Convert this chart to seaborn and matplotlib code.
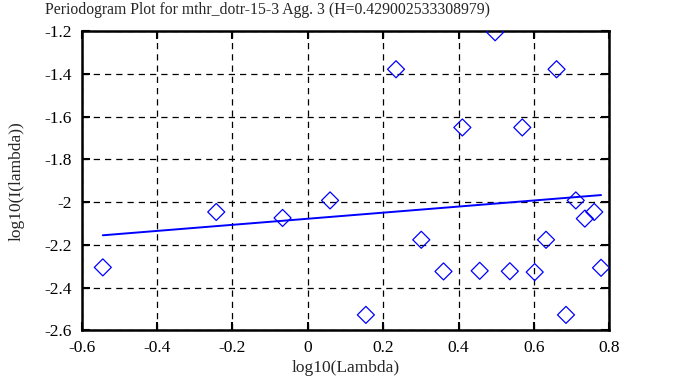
import matplotlib
matplotlib.use("Agg")
import matplotlib.pyplot as plt
import seaborn as sns
import pandas as pd

# Data
log_lambda = [-0.544, -0.243, -0.067, 0.059, 0.154, 0.234, 0.301, 0.360, 0.410,
              0.456, 0.497, 0.536, 0.569, 0.602, 0.632, 0.660, 0.685, 0.711,
              0.735, 0.760, 0.778]
log_I = [-2.305, -2.046, -2.074, -1.992, -2.527, -1.379, -2.176, -2.324, -1.651,
         -2.321, -1.206, -2.323, -1.651, -2.327, -2.176, -1.379, -2.527, -1.992,
         -2.077, -2.046, -2.307]
fit_x = [-0.544, 0.778]
fit_y = [-2.155, -1.967]
x_ticks = [-0.6, -0.4, -0.2, 0, 0.2, 0.4, 0.6, 0.8]
y_ticks = [-2.6, -2.4, -2.2, -2, -1.8, -1.6, -1.4, -1.2]
title = "Periodogram Plot for mthr_dotr-15-3 Agg. 3 (H=0.429002533308979)"

sns.set_style("ticks")
plt.rcParams['font.family'] = ['Liberation Serif', 'DejaVu Serif']
plt.rcParams['font.size'] = 12

df = pd.DataFrame({"x": log_lambda, "y": log_I})
fit = pd.DataFrame({"x": fit_x, "y": fit_y})

fig = plt.figure(figsize=(6.73, 3.87), dpi=100)
ax = fig.add_axes([0.1214, 0.146, 0.9054 - 0.1214, 0.920 - 0.146])

sns.scatterplot(data=df, x="x", y="y", ax=ax, marker="D", s=75,
                facecolors="none", edgecolor="#0000ff", linewidth=0.9, zorder=3)
sns.lineplot(data=fit, x="x", y="y", ax=ax, color="#0000ff", linewidth=1.4, zorder=3)

ax.set_xlim(-0.6, 0.8)
ax.set_ylim(-2.6, -1.2)
ax.set_xticks(x_ticks)
ax.set_yticks(y_ticks)
ax.set_xticklabels([f"{t:g}" for t in x_ticks])
ax.set_yticklabels([f"{t:g}" for t in y_ticks])
ax.grid(True, color="black", linestyle=(0, (5, 4)), linewidth=0.9)
ax.tick_params(direction="in", length=6, width=1.5, top=True, right=True,
               labelsize=12.5, pad=7, colors="black")
for sp in ax.spines.values():
    sp.set_linewidth(1.8)
    sp.set_color("black")
    sp.set_visible(True)
ax.set_xlabel("log10(Lambda)", fontsize=12.5, labelpad=3)
ax.set_ylabel("log10(I(lambda))", fontsize=12.5, labelpad=14)
fig.text(0.398, 0.975, title, ha="center", va="center", fontsize=11.3)

fig.savefig("out.png", dpi=100)
